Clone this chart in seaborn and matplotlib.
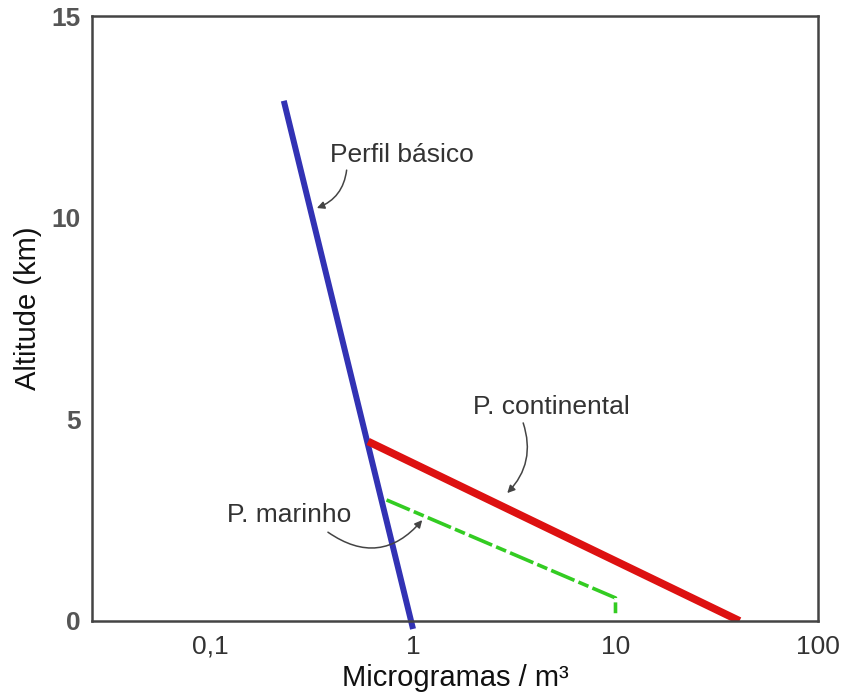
import matplotlib
matplotlib.use("Agg")
import matplotlib.pyplot as plt
import seaborn as sns

# profile end points (concentration ug/m3, altitude km)
basico_x = [0.23, 1.0]
basico_y = [12.9, -0.2]
continental_x = [0.60, 41.0]
continental_y = [4.45, 0.0]
marinho_x = [0.74, 10.0, 10.0]
marinho_y = [3.0, 0.57, 0.1]

x_ticks = [0.1, 1, 10, 100]
x_tick_labels = ["0,1", "1", "10", "100"]
y_ticks = [0, 5, 10, 15]

sns.set_style("white")
plt.rcParams["font.family"] = ["Liberation Sans", "DejaVu Sans"]

fig = plt.figure(figsize=(8.45, 7), dpi=100)
ax = fig.add_axes([0.109, 0.113, 0.859, 0.864])

sns.lineplot(x=basico_x, y=basico_y, ax=ax, color="#3232b4", lw=4.3,
             sort=False, estimator=None, clip_on=False, solid_capstyle="butt")
sns.lineplot(x=continental_x, y=continental_y, ax=ax, color="#dd1111", lw=5.5,
             sort=False, estimator=None, solid_capstyle="butt")
sns.lineplot(x=marinho_x, y=marinho_y, ax=ax, color="#33cc22", lw=2.6,
             sort=False, estimator=None, linestyle=(0, (7, 1.2, 3, 1.2)))

ax.set_xscale("log")
ax.set_xlim(0.026, 100)
ax.set_ylim(0, 15)
ax.set_xticks(x_ticks)
ax.set_xticklabels(x_tick_labels)
ax.set_yticks(y_ticks)
ax.minorticks_off()
ax.tick_params(axis="x", direction="in", length=4, width=1, colors="#777777",
               pad=10)
ax.tick_params(axis="y", direction="out", length=3, width=1, colors="#777777",
               pad=5)
for lab in ax.get_xticklabels():
    lab.set_color("#333333")
    lab.set_fontsize(19)
for lab in ax.get_yticklabels():
    lab.set_color("#555555")
    lab.set_fontsize(19)
    lab.set_fontweight("bold")
for s in ax.spines.values():
    s.set_color("#444444")
    s.set_linewidth(1.8)

ax.set_xlabel("Microgramas / m³", fontsize=21, color="#111111", va="center")
ax.set_ylabel("Altitude (km)", fontsize=21, color="#111111", va="center")
ax.xaxis.set_label_coords(0.5, -0.094)
ax.yaxis.set_label_coords(-0.088, 0.517)

arrow = dict(arrowstyle="-|>", color="#444444", lw=1.1, mutation_scale=11,
             shrinkA=0, shrinkB=0)
txt = dict(fontsize=19, color="#333333", ha="left", va="center")

ax.text(0.39, 11.55, "Perfil básico", **txt)
ax.annotate("", xy=(0.335, 10.24), xytext=(0.47, 11.18),
            arrowprops=dict(arrow, connectionstyle="arc3,rad=-0.3"))

ax.text(1.98, 5.3, "P. continental", **txt)
ax.annotate("", xy=(2.92, 3.17), xytext=(3.5, 4.91),
            arrowprops=dict(arrow, connectionstyle="arc3,rad=-0.3"))

ax.text(0.121, 2.63, "P. marinho", **txt)
ax.annotate("", xy=(1.11, 2.5), xytext=(0.38, 2.2),
            arrowprops=dict(arrow, connectionstyle="arc3,rad=0.45"))

fig.savefig("out.png", dpi=100)
